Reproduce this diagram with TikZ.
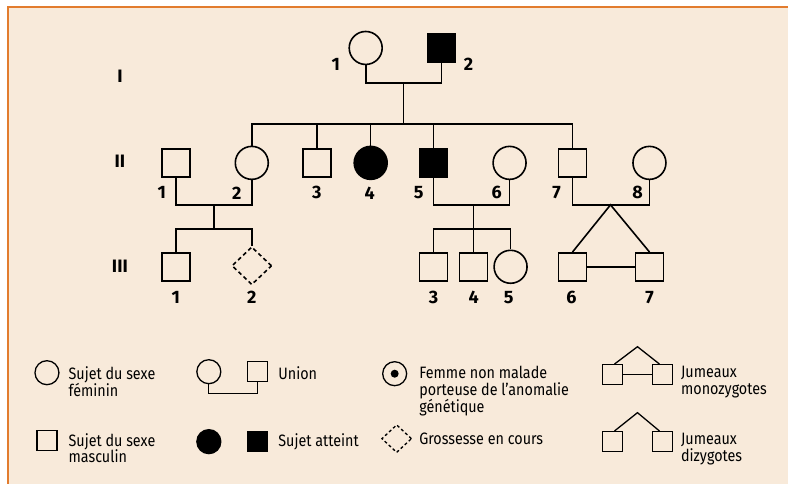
\documentclass[tikz,border=0pt]{standalone}
\usepackage{fontspec}
\setmainfont{Fira Sans}
\newfontfamily\legfont[FakeStretch=0.87]{Fira Sans}
\usetikzlibrary{shapes.geometric,calc}
\definecolor{paper}{RGB}{248,234,218}
\definecolor{frame}{RGB}{226,124,46}

\begin{document}
\begin{tikzpicture}[x=1pt, y=-1pt, line width=1.6pt,
  fem/.style={draw, circle, minimum size=33pt, inner sep=0pt},
  male/.style={draw, rectangle, minimum size=28pt, inner sep=0pt},
  femA/.style={fem, fill=black},
  maleA/.style={male, fill=black},
  preg/.style={draw, diamond, dash pattern=on 4pt off 3pt, minimum width=40pt, minimum height=38pt, inner sep=0pt},
  lfem/.style={draw, circle, minimum size=24pt, inner sep=0pt},
  lmale/.style={draw, rectangle, minimum size=20pt, inner sep=0pt},
  lpreg/.style={draw, diamond, dash pattern=on 3pt off 2.5pt, minimum width=30pt, minimum height=28pt, inner sep=0pt},
  num/.style={font=\bfseries\fontsize{18}{18}\selectfont, inner sep=0pt},
  gen/.style={font=\bfseries\fontsize{18}{18}\selectfont, inner sep=0pt},
  leg/.style={anchor=north west, align=left, inner sep=0pt, font=\legfont\fontsize{16.5}{16.5}\selectfont}]
% background
\fill[white] (0,0) rectangle (789,484);
\fill[paper] (8,7) rectangle (789,484);
\draw[frame, line width=1.3pt] (8,484) -- (8,7) -- (789,7);

% generation I
\node[fem] (a1) at (366,48) {};
\node[maleA] (a2) at (442,48) {};
\node[num] (na1) at (336,64) {1};
\node[num] (na2) at (469,64) {2};
\coordinate (u1) at (404,83);
\coordinate (s1) at (404,124);
\draw (a1.south) |- (u1) -| (a2.south);
\draw (u1) -- (s1);

% generation II
\foreach \i/\x/\s/\lx in {1/176/male/162, 2/252/fem/237, 3/317/male/317, 4/371/femA/370, 5/434/maleA/419, 6/510/fem/497, 7/573/male/557, 8/650/fem/638} {
  \node[\s] (b\i) at (\x,163) {};
  \node[num] (nb\i) at (\lx,193) {\i};}
\draw (b2.north) |- (s1) -| (b7.north);
\foreach \i in {3,4,5} \draw (b\i.north) -- (b\i.north |- s1);
\coordinate (u12) at (214,205); \coordinate (s12) at (214,229);
\draw (b1.south) |- (u12) -| (b2.south); \draw (u12) -- (s12);
\coordinate (u56) at (474,205); \coordinate (s56) at (474,229);
\draw (b5.south) |- (u56) -| (b6.south); \draw (u56) -- (s56);
\coordinate (u78) at (611,205);
\draw (b7.south) |- (u78) -| (b8.south);

% generation III
\node[male] (c1) at (176,267) {};
\node[preg] (c2) at (252,266) {};
\node[male] (c3) at (434,267) {};
\node[male] (c4) at (474,267) {};
\node[fem] (c5) at (511,267) {};
\node[male] (c6) at (573,267) {};
\node[male] (c7) at (650,267) {};
\foreach \i/\lx in {1/176,2/252,3/434,4/474,5/509,6/572,7/650} \node[num] (nc\i) at (\lx,298) {\i};
\draw (c1.north) |- (s12) -| (c2.north);
\draw (c3.north) |- (s56) -| (c5.north);
\draw (c4.north) -- (s56);
\draw (c6.north) -- (u78) -- (c7.north);
\draw (c6) -- (c7);

\foreach \g/\y in {I/76, II/161, III/266} \node[gen] (g\g) at (120,\y) {\g};

% legend
\begin{scope}[line width=1.3pt]
\node[lfem] (kf) at (47,373) {};
\node[leg] (tf) at (68,366) {Sujet du sexe\\féminin};
\node[lfem] (ku1) at (209,372) {};
\node[lmale] (ku2) at (258,372) {};
\coordinate (ku) at (233,394);
\draw (ku1.south) |- (ku) -| (ku2.south);
\node[leg] (tu) at (278,366) {Union};
\node[lfem] (kc) at (395,374) {};
\node[circle, fill, minimum size=8pt, inner sep=0pt] (kcd) at (kc) {};
\node[leg] (tc) at (419,366) {Femme non malade\\porteuse de l’anomalie\\génétique};
\node[lmale] (km1) at (613,375) {};
\node[lmale] (km2) at (663,375) {};
\coordinate (km) at (638,347);
\draw ($(km1.north)+(2,0)$) -- (km) -- ($(km2.north)+(-3,0)$);
\draw (km1) -- (km2);
\node[leg] (tm) at (681,366) {Jumeaux\\monozygotes};

\node[lmale] (kma) at (47,441) {};
\node[leg] (tma) at (68,433) {Sujet du sexe\\masculin};
\node[lfem, fill=black] (ka1) at (209,442) {};
\node[lmale, fill=black] (ka2) at (258,442) {};
\node[leg] (ta) at (278,433) {Sujet atteint};
\node[lpreg] (kp) at (397,439) {};
\node[leg] (tp) at (419,433) {Grossesse en cours};
\node[lmale] (kd1) at (613,442) {};
\node[lmale] (kd2) at (663,442) {};
\coordinate (kd) at (638,413);
\draw ($(kd1.north)+(2,0)$) -- (kd) -- ($(kd2.north)+(-3,0)$);
\node[leg] (td) at (681,433) {Jumeaux\\dizygotes};
\end{scope}
\end{tikzpicture}
\end{document}
